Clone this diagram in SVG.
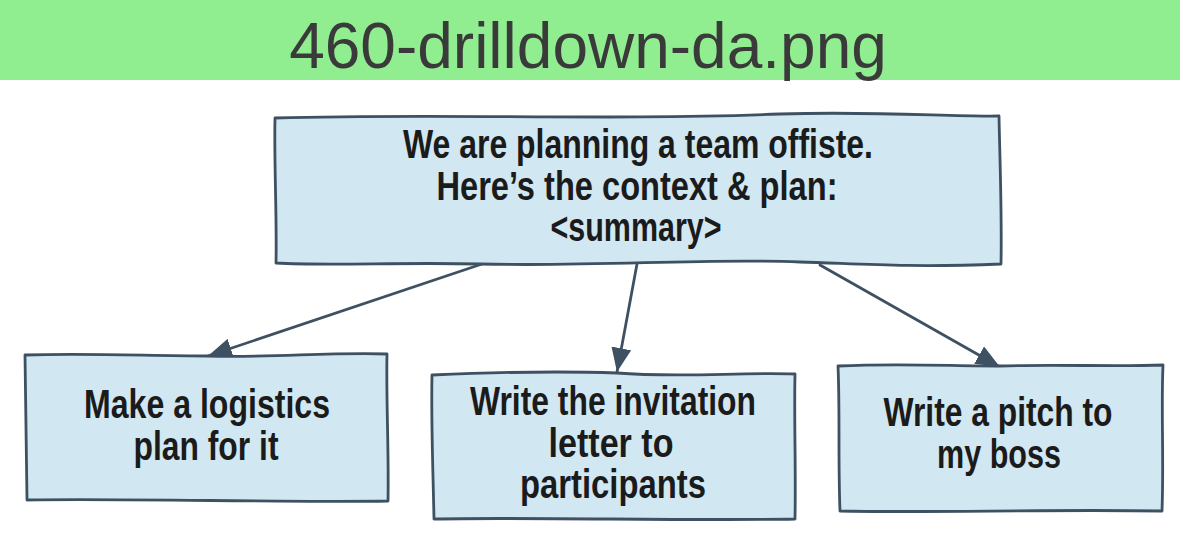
<svg xmlns="http://www.w3.org/2000/svg" width="1180" height="544" viewBox="0 0 1180 544">
  <defs>
    <style>
      .banner { fill: #90ee90; }
      .banner-text { font-family: "Liberation Sans", Arial, sans-serif; font-size: 64px; fill: #3a3a3a; text-anchor: middle; }
      .box { fill: #d1e7f1; stroke: #3e5163; stroke-width: 2.8; stroke-linejoin: round; }
      .label { font-family: "Liberation Sans", Arial, sans-serif; font-size: 40px; font-weight: bold; fill: #1b1b1b; text-anchor: middle; }
      .edge { fill: none; stroke: #3e5163; stroke-width: 2.8; stroke-linecap: round; }
    </style>
    <marker id="head" viewBox="0 0 24 20" refX="24" refY="10" markerWidth="24" markerHeight="20" markerUnits="userSpaceOnUse" orient="auto">
      <path d="M0,0 L24,10 L0,20 Z" fill="#3e5163"/>
    </marker>
  </defs>

  <rect class="banner" x="0" y="0" width="1180" height="80"/>
  <text class="banner-text" x="588" y="68">460-drilldown-da.png</text>

  <!-- connectors from the root box to each task -->
  <g id="connectors">
    <path class="edge" d="M482,264 L208,356" marker-end="url(#head)"/>
    <path class="edge" d="M637,264 L617,372" marker-end="url(#head)"/>
    <path class="edge" d="M820,265 L1000,367" marker-end="url(#head)"/>
  </g>

  <g id="root">
    <path class="box" d="M275,118 C450,113 600,121 780,114 C880,111 950,117 999,116 C1000,165 1002,215 1001,264 C900,268 850,263 800,262 C700,258 600,267 480,264 C400,262 330,266 276,263 C277,215 274,165 275,118 Z"/>
    <text class="label" x="638" y="158" textLength="470" lengthAdjust="spacingAndGlyphs">We are planning a team offiste.</text>
    <text class="label" x="637" y="200" textLength="401" lengthAdjust="spacingAndGlyphs">Here’s the context &amp; plan:</text>
    <text class="label" x="636" y="241" textLength="171" lengthAdjust="spacingAndGlyphs">&lt;summary&gt;</text>
  </g>

  <g id="logistics">
    <path class="box" d="M25,355 C90,353 150,356 208,356 C270,358 330,352 387,354 C386,400 389,450 388,501 C300,503 120,498 27,500 C26,450 26,400 25,355 Z"/>
    <text class="label" x="207" y="418" textLength="246" lengthAdjust="spacingAndGlyphs">Make a logistics</text>
    <text class="label" x="206" y="460" textLength="145" lengthAdjust="spacingAndGlyphs">plan for it</text>
  </g>

  <g id="invitation">
    <path class="box" d="M432,375 C500,372 560,371 617,373 C680,378 740,372 795,374 C794,420 796,470 795,519 C700,521 520,517 434,519 C433,470 431,420 432,375 Z"/>
    <text class="label" x="613" y="415" textLength="286" lengthAdjust="spacingAndGlyphs">Write the invitation</text>
    <text class="label" x="611" y="457" textLength="125" lengthAdjust="spacingAndGlyphs">letter to</text>
    <text class="label" x="613" y="498" textLength="186" lengthAdjust="spacingAndGlyphs">participants</text>
  </g>

  <g id="pitch">
    <path class="box" d="M838,366 C900,363 950,366 1000,366 C1060,364 1110,367 1163,365 C1161,410 1164,460 1162,511 C1050,509 930,513 840,511 C838,460 840,410 838,366 Z"/>
    <text class="label" x="998" y="426" textLength="229" lengthAdjust="spacingAndGlyphs">Write a pitch to</text>
    <text class="label" x="999" y="468" textLength="124" lengthAdjust="spacingAndGlyphs">my boss</text>
  </g>
</svg>
